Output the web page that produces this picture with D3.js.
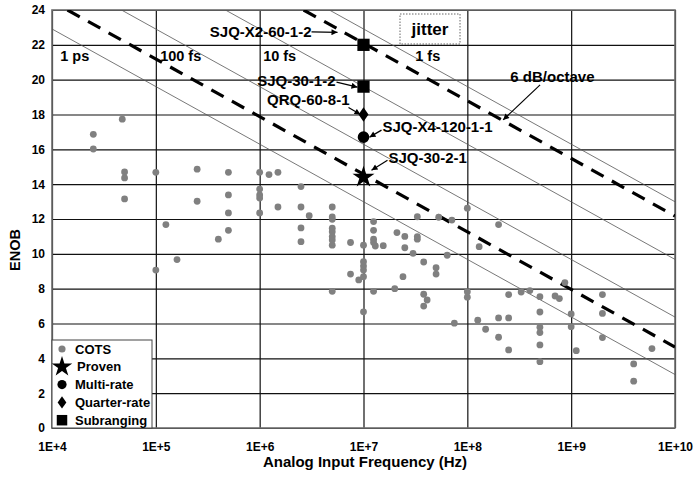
<!DOCTYPE html>
<html>
<head>
<meta charset="utf-8">
<script src="https://cdn.jsdelivr.net/npm/d3@7"></script>
<style>
body { margin: 0; background: #fff; }
svg { display: block; }
text { font-family: "Liberation Sans", Arial, sans-serif; font-weight: bold; fill: #000; }
</style>
</head>
<body>
<svg id="chart" width="696" height="477"></svg>
<script>
// ticks
const yTicks = [0, 2, 4, 6, 8, 10, 12, 14, 16, 18, 20, 22, 24];
const xTicks = [1e4, 1e5, 1e6, 1e7, 1e8, 1e9, 1e10];

// COTS converters [freq Hz, ENOB]
const cots = [
  [2.5e4, 16.86], [2.5e4, 16.02], [4.75e4, 17.73], [5e4, 14.7], [5e4, 14.36], [5e4, 13.15],
  [1e5, 14.68], [1e5, 9.07], [1.25e5, 11.68], [1.6e5, 9.67], [2.5e5, 14.86], [2.5e5, 13.02],
  [4e5, 10.84], [5e5, 14.68], [5e5, 13.38], [5e5, 12.35], [5e5, 11.35],
  [1e6, 14.68], [1e6, 13.72], [1e6, 13.38], [1e6, 13.2], [1e6, 12.35], [1.23e6, 14.55],
  [1.5e6, 14.68], [1.5e6, 12.69], [2.5e6, 13.86], [2.5e6, 12.69], [2.5e6, 11.49], [2.5e6, 10.7],
  [3e6, 12.19], [5e6, 12.69], [5e6, 12.12], [5e6, 11.98], [5e6, 11.47], [5e6, 11.27],
  [5e6, 10.99], [5e6, 10.8], [5e6, 10.5], [5e6, 7.85], [7.5e6, 10.65], [7.5e6, 8.84],
  [1e7, 10.5], [1e7, 9.55], [1e7, 9.3], [1e7, 9.07], [1e7, 8.69], [9e6, 8.5], [1e7, 6.67],
  [1.25e7, 11.85], [1.25e7, 11.35], [1.25e7, 10.84], [1.25e7, 10.65], [1.3e7, 10.45],
  [1.55e7, 10.47], [1.25e7, 7.85], [2.1e7, 11.22], [2.5e7, 11.0], [2.5e7, 10.35],
  [3.3e7, 12.13], [3.3e7, 10.99], [3.3e7, 10.84], [3e7, 10.03], [2.4e7, 8.69], [2e7, 8.0],
  [3.8e7, 9.53], [5.3e7, 12.1], [7.1e7, 11.94], [6.4e7, 9.92], [5e7, 9.2], [5e7, 8.84],
  [3.8e7, 7.68], [4.1e7, 7.35], [3.8e7, 7.0], [7.5e7, 6.02],
  [1e8, 12.62], [2e8, 11.68], [1.3e8, 10.41], [1e8, 7.83], [1e8, 7.51], [2.5e8, 7.66],
  [3.3e8, 7.81], [4e8, 7.89], [5e8, 7.54], [7e8, 7.58], [7.7e8, 7.43], [8.7e8, 8.35],
  [2e9, 7.66], [2e9, 6.58], [1e9, 6.55], [1e9, 5.82], [1.12e9, 4.44], [2e9, 5.19],
  [1.26e8, 6.19], [1.5e8, 5.67], [2e8, 6.32], [2.5e8, 6.32], [2e8, 5.21], [2.5e8, 4.48],
  [5e8, 6.66], [5e8, 5.79], [5e8, 5.48], [5e8, 4.77], [5e8, 3.81],
  [4e9, 3.68], [4e9, 2.69], [6e9, 4.56]
];

// highlighted designs
const subranging = [[1e7, 22.0], [1e7, 19.6]];
const quarterRate = [[1e7, 18.0]];
const multiRate = [[1e7, 16.7]];
const proven = [[1e7, 14.4]];
const designNames = ["SJQ-X2-60-1-2", "SJQ-30-1-2", "QRQ-60-8-1", "SJQ-X4-120-1-1", "SJQ-30-2-1"];

// constant-jitter lines (thin) and 6 dB/octave lines (dashed), as end points
const jitterLines = [
  [[1e4, 22.91], [1e10, 3.07]],
  [[4.67e4, 24], [1e10, 6.37]],
  [[4.68e5, 24], [1e10, 9.68]],
  [[4.69e6, 24], [1e10, 12.99]]
];
const jitterLabels = ["1 ps", "100 fs", "10 fs", "1 fs"];
const jitterLabelFreq = [1.2e4, 1.1e5, 1.08e6, 3.15e7];
const octaveLines = [
  [[1.41e4, 24], [1e10, 4.65]],
  [[2.65e6, 24], [1e10, 12.17]]
];

const legendNames = ["COTS", "Proven", "Multi-rate", "Quarter-rate", "Subranging"];

const svg = d3.select("#chart");
const L = 52, R = 675, T = 10, B = 428;

const x = d3.scaleLog().domain([1e4, 1e10]).range([L, R]);
const y = d3.scaleLinear().domain([0, 24]).range([B, T]);

svg.append("defs").append("clipPath").attr("id", "plotclip")
  .append("rect").attr("x", L).attr("y", T).attr("width", R - L).attr("height", B - T);

svg.select("defs").append("marker")
  .attr("id", "arrow").attr("viewBox", "0 0 10 10").attr("refX", 10).attr("refY", 5)
  .attr("markerWidth", 8).attr("markerHeight", 6).attr("markerUnits", "userSpaceOnUse")
  .attr("orient", "auto")
  .append("path").attr("d", "M0,0L10,5L0,10z").attr("fill", "#000");

// grid
const grid = svg.append("g");
grid.append("g")
  .attr("transform", `translate(${L},0)`)
  .call(d3.axisLeft(y).tickValues(yTicks).tickSize(-(R - L)).tickFormat(""))
  .call(g => g.select(".domain").remove())
  .call(g => g.selectAll("line").attr("stroke", "#111").attr("stroke-width", 1.2));
grid.append("g")
  .attr("transform", `translate(0,${B})`)
  .call(d3.axisBottom(x).tickValues(xTicks).tickSize(-(B - T)).tickFormat(""))
  .call(g => g.select(".domain").remove())
  .call(g => g.selectAll("line").attr("stroke", "#111").attr("stroke-width", 1.2));

// tick labels
svg.append("g")
  .attr("transform", `translate(${L - 7},0)`)
  .call(d3.axisLeft(y).tickValues(yTicks).tickSize(0).tickPadding(0))
  .call(g => g.select(".domain").remove())
  .call(g => g.selectAll("text").attr("font-size", 12).attr("font-family", null));
svg.append("g")
  .attr("transform", `translate(0,${B + 14})`)
  .call(d3.axisBottom(x).tickValues(xTicks).tickSize(0).tickPadding(0)
    .tickFormat(d => "1E+" + Math.round(Math.log10(d))))
  .call(g => g.select(".domain").remove())
  .call(g => g.selectAll("text").attr("font-size", 12).attr("font-family", null));

// plot border
svg.append("rect").attr("x", L).attr("y", T).attr("width", R - L).attr("height", B - T)
  .attr("fill", "none").attr("stroke", "#6e6e6e").attr("stroke-width", 1.6);

const lineGen = d3.line().x(d => x(d[0])).y(d => y(d[1]));
const lines = svg.append("g").attr("clip-path", "url(#plotclip)");
lines.selectAll(".jit").data(jitterLines).join("path")
  .attr("d", lineGen).attr("fill", "none").attr("stroke", "#555").attr("stroke-width", 0.8);
lines.selectAll(".oct").data(octaveLines).join("path")
  .attr("d", lineGen).attr("fill", "none").attr("stroke", "#000")
  .attr("stroke-width", 3.2).attr("stroke-dasharray", "14,9.5");

// jitter labels
svg.append("g").selectAll("text").data(jitterLabels).join("text")
  .attr("x", (d, i) => x(jitterLabelFreq[i])).attr("y", y(21.36))
  .attr("dy", "0.35em").attr("font-size", 14.5).text(d => d);

// jitter box
svg.append("rect").attr("x", 400).attr("y", 14).attr("width", 60).attr("height", 30)
  .attr("fill", "#fff").attr("stroke", "#666").attr("stroke-dasharray", "1.5,1.5");
svg.append("text").attr("x", 430).attr("y", 29).attr("dy", "0.35em")
  .attr("text-anchor", "middle").attr("font-size", 17).text("jitter");

// COTS dots
svg.append("g").selectAll("circle").data(cots).join("circle")
  .attr("cx", d => x(d[0])).attr("cy", d => y(d[1])).attr("r", 3.4).attr("fill", "#808080");

// highlighted designs
const sym = (type, size) => d3.symbol().type(type).size(size)();
const marks = svg.append("g");
marks.selectAll(".sq").data(subranging).join("path")
  .attr("transform", d => `translate(${x(d[0])},${y(d[1])})`).attr("d", sym(d3.symbolSquare, 150));
marks.selectAll(".dm").data(quarterRate).join("path")
  .attr("transform", d => `translate(${x(d[0])},${y(d[1])}) scale(1.2,1)`).attr("d", sym(d3.symbolDiamond, 60));
marks.selectAll(".ci").data(multiRate).join("path")
  .attr("transform", d => `translate(${x(d[0])},${y(d[1])})`).attr("d", sym(d3.symbolCircle, 106));
marks.selectAll(".st").data(proven).join("path")
  .attr("transform", d => `translate(${x(d[0])},${y(d[1])})`).attr("d", sym(d3.symbolStar, 150));

// design annotations: offsets from the marker (label anchor, arrow start, arrow end)
const designPts = [subranging[0], subranging[1], quarterRate[0], multiRate[0], proven[0]];
const annot = [
  { anchor: "end", tx: -52, ty: -13, a: [-52, -13, -26, -12.5] },
  { anchor: "end", tx: -28, ty: -6, a: [-27, -4.5, -6, 0.5] },
  { anchor: "end", tx: -14, ty: -14.5, a: [-15, -7, -3, 0] },
  { anchor: "start", tx: 19, ty: -10, a: [18, -7, 6, 0] },
  { anchor: "start", tx: 25, ty: -19, a: [24, -17, 8, -7] }
];
const ann = svg.append("g");
designPts.forEach((p, i) => {
  const px = x(p[0]), py = y(p[1]), o = annot[i];
  ann.append("text").attr("x", px + o.tx).attr("y", py + o.ty).attr("dy", "0.35em")
    .attr("text-anchor", o.anchor).attr("font-size", 15).text(designNames[i]);
  ann.append("line").attr("x1", px + o.a[0]).attr("y1", py + o.a[1])
    .attr("x2", px + o.a[2]).attr("y2", py + o.a[3])
    .attr("stroke", "#000").attr("stroke-width", 1.2).attr("marker-end", "url(#arrow)");
});

// 6 dB/octave note
ann.append("text").attr("x", x(6.6e8)).attr("y", y(20.15)).attr("dy", "0.35em")
  .attr("text-anchor", "middle").attr("font-size", 15).text("6 dB/octave");
ann.append("line").attr("x1", x(5.02e8)).attr("y1", y(19.7))
  .attr("x2", x(2.21e8)).attr("y2", y(17.69))
  .attr("stroke", "#000").attr("stroke-width", 1.2).attr("marker-end", "url(#arrow)");

// axis titles
svg.append("text").attr("x", 365).attr("y", 462).attr("dy", "0.35em")
  .attr("text-anchor", "middle").attr("font-size", 15).text("Analog Input Frequency (Hz)");
svg.append("text").attr("transform", "translate(15,250) rotate(-90)").attr("dy", "0.35em")
  .attr("text-anchor", "middle").attr("font-size", 14.5).text("ENOB");

// legend
const lg = svg.append("g");
lg.append("rect").attr("x", L).attr("y", 340).attr("width", 100).attr("height", B - 340)
  .attr("fill", "#fff").attr("stroke", "#444").attr("stroke-width", 1);
const legendSym = [
  { t: d3.symbolCircle, s: 40, c: "#808080", sx: 1 },
  { t: d3.symbolStar, s: 130, c: "#000", sx: 1 },
  { t: d3.symbolCircle, s: 66, c: "#000", sx: 1 },
  { t: d3.symbolDiamond, s: 42, c: "#000", sx: 1.25 },
  { t: d3.symbolSquare, s: 110, c: "#000", sx: 1 }
];
legendNames.forEach((name, i) => {
  const ly = 349 + i * 17.8;
  lg.append("path").attr("transform", `translate(62,${ly}) scale(${legendSym[i].sx},1)`)
    .attr("d", sym(legendSym[i].t, legendSym[i].s)).attr("fill", legendSym[i].c);
  lg.append("text").attr("x", i === 1 ? 77 : 75).attr("y", ly).attr("dy", "0.35em")
    .attr("font-size", 13).text(name);
});
</script>
</body>
</html>
